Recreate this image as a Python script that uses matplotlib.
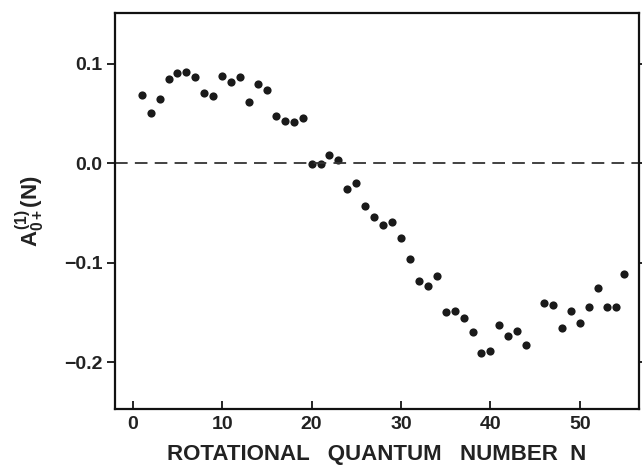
import numpy as np
import matplotlib.pyplot as plt

plt.rcParams['font.family'] = ['Liberation Sans', 'DejaVu Sans']
plt.rcParams['mathtext.fontset'] = 'custom'
plt.rcParams['mathtext.rm'] = 'Liberation Sans:bold'
plt.rcParams['mathtext.it'] = 'Liberation Sans:bold'
plt.rcParams['mathtext.bf'] = 'Liberation Sans:bold'

# rotational quantum number N (N = 45 is missing)
N = [1, 2, 3, 4, 5, 6, 7, 8, 9, 10, 11, 12, 13, 14, 15, 16, 17, 18, 19, 20,
     21, 22, 23, 24, 25, 26, 27, 28, 29, 30, 31, 32, 33, 34, 35, 36, 37, 38,
     39, 40, 41, 42, 43, 44, 46, 47, 48, 49, 50, 51, 52, 53, 54, 55]

# alignment parameter A0+(1)(N)
A = [0.069, 0.051, 0.065, 0.085, 0.091, 0.092, 0.087, 0.071, 0.068, 0.088,
     0.082, 0.087, 0.062, 0.080, 0.074, 0.048, 0.043, 0.042, 0.046, -0.001,
     -0.001, 0.008, 0.003, -0.026, -0.020, -0.043, -0.054, -0.062, -0.059,
     -0.075, -0.096, -0.118, -0.123, -0.113, -0.149, -0.148, -0.155, -0.170,
     -0.191, -0.189, -0.163, -0.174, -0.169, -0.183, -0.140, -0.142, -0.166,
     -0.148, -0.161, -0.144, -0.125, -0.144, -0.144, -0.111]

fig = plt.figure(figsize=(6.42, 4.68), dpi=100)
ax = fig.add_axes([0.179, 0.126, 0.816, 0.846])

ax.plot(N, A, 'o', color='#1a1a1a', markersize=5.9, markeredgewidth=0)
ax.axhline(0, color='#333333', linestyle=(0, (7, 4)), linewidth=1.3)

ax.set_xlim(-2, 56.6)
ax.set_ylim(-0.247, 0.151)
ax.set_xticks([0, 10, 20, 30, 40, 50])
ax.set_yticks([-0.2, -0.1, 0.0, 0.1])
ax.set_yticklabels(['\u22120.2', '\u22120.1', '0.0', '0.1'])

for s in ax.spines.values():
    s.set_linewidth(1.6)
    s.set_color('#111111')

ax.tick_params(axis='x', direction='in', length=6, width=1.2, labelsize=14,
               pad=5, top=False)
ax.tick_params(axis='y', direction='out', length=6, width=1.2, labelsize=14,
               pad=3, right=True)
for lab in ax.get_xticklabels() + ax.get_yticklabels():
    lab.set_fontweight('bold')
    lab.set_color('#222222')

ax.set_xlabel('ROTATIONAL   QUANTUM   NUMBER  N', fontsize=16,
              fontweight='bold', color='#222222', labelpad=8)
ax.set_ylabel(r'$A^{(1)}_{0+}$(N)', fontsize=16, fontweight='bold',
              color='#222222', labelpad=12)

plt.savefig('out.png', dpi=100)
